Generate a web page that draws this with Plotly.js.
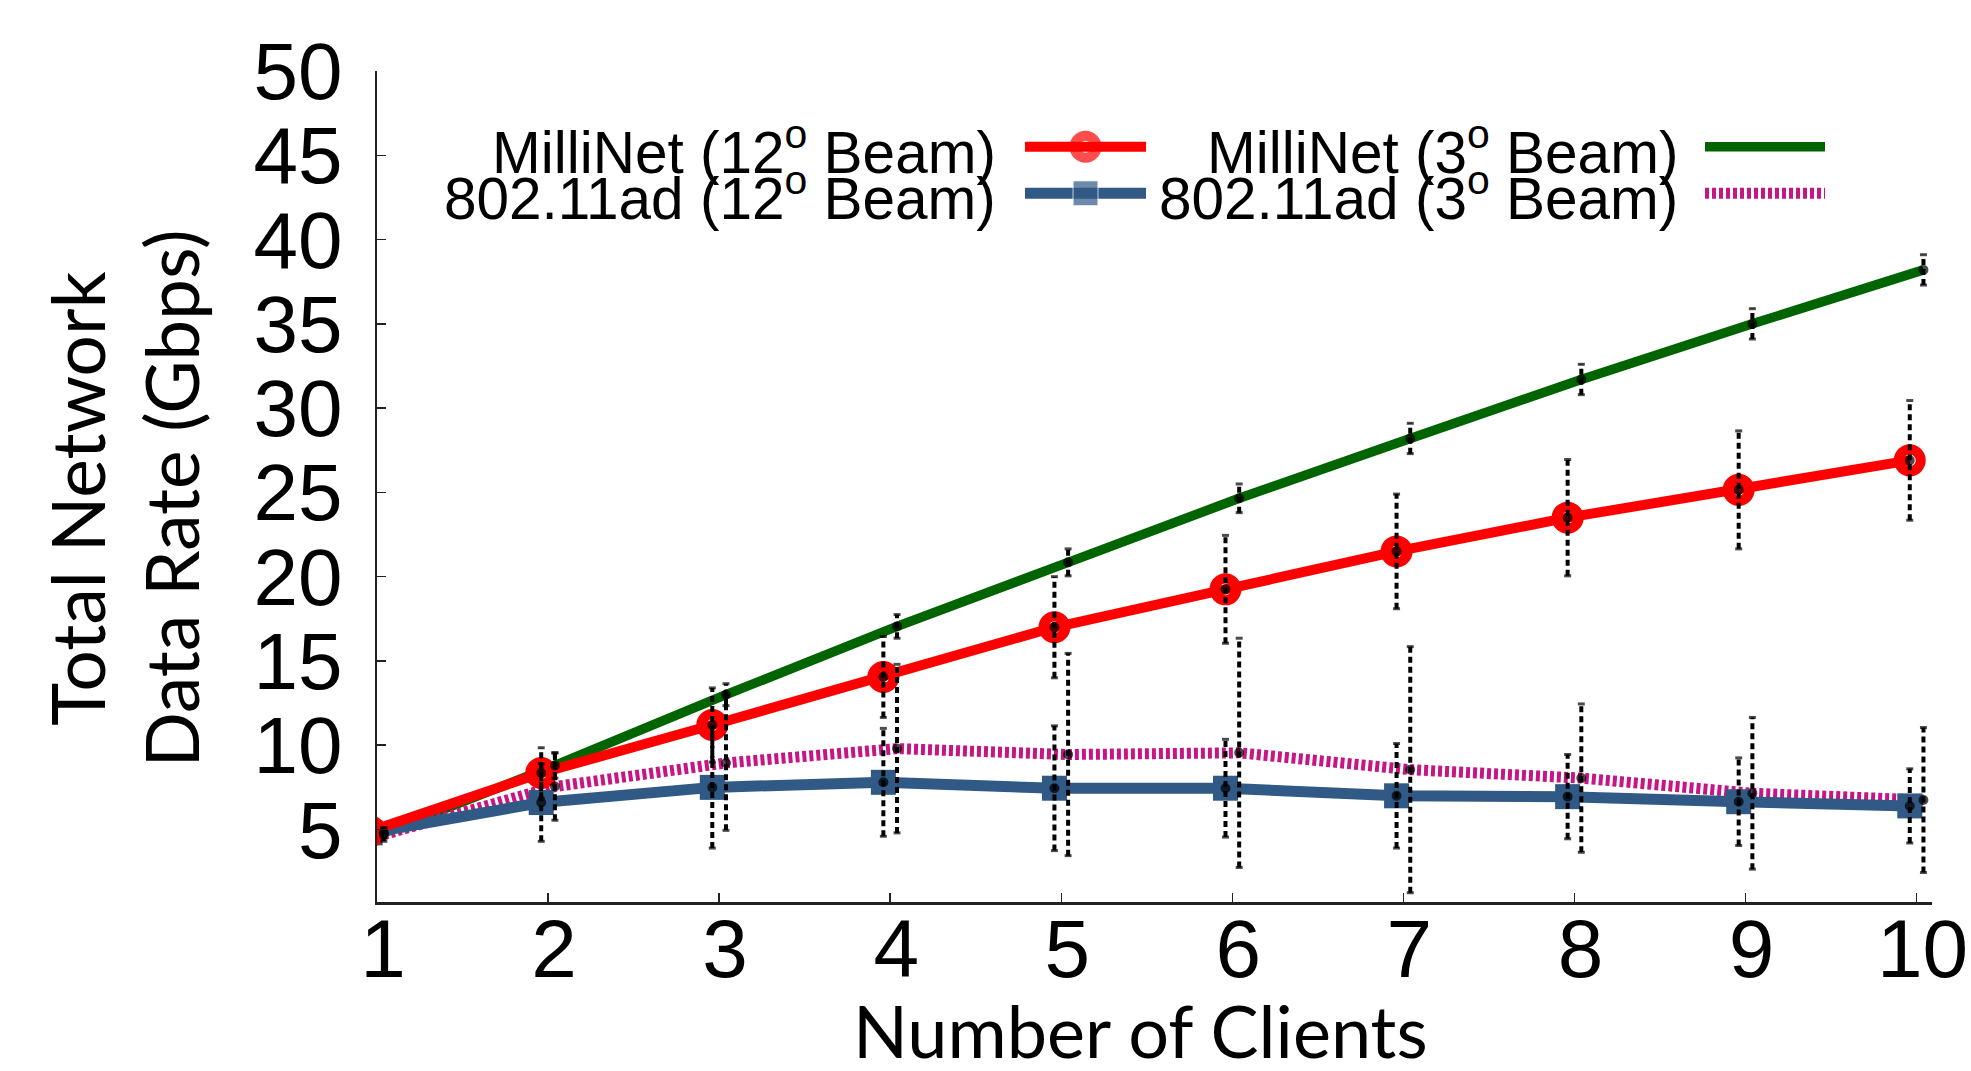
<!DOCTYPE html>
<html>
<head>
<meta charset="utf-8">
<script src="https://cdn.plot.ly/plotly-3.0.1.min.js"></script>
<style>html,body{margin:0;padding:0;background:#fff;}#chart{width:1971px;height:1071px;}</style>
</head>
<body>
<div id="chart"></div>
<script>
// ---- data ----
const clients = [1, 2, 3, 4, 5, 6, 7, 8, 9, 10];

const milliNet12 = [4.9, 8.35, 11.2, 14.05, 17.0, 19.25, 21.5, 23.5, 25.15, 26.9];
const milliNet12Err = [0.4, 1.5, 2.2, 2.4, 3.0, 3.2, 3.4, 3.45, 3.5, 3.55];

const milliNet3 = [4.8, 8.8, 13.0, 17.05, 20.85, 24.65, 28.2, 31.7, 35.0, 38.2];
const milliNet3Err = [0.3, 0.75, 0.65, 0.7, 0.8, 0.85, 0.9, 0.9, 0.9, 0.9];

const ad12 = [4.8, 6.6, 7.5, 7.8, 7.45, 7.45, 7.0, 6.95, 6.65, 6.4];
const ad12Err = [0.4, 2.3, 3.6, 3.2, 3.7, 2.9, 3.1, 2.5, 2.6, 2.2];

const ad3 = [4.7, 7.55, 8.95, 9.8, 9.45, 9.55, 8.55, 8.05, 7.15, 6.75];
const ad3Err = [0.4, 2.0, 4.0, 5.0, 6.0, 6.8, 7.3, 4.4, 4.5, 4.3];

const yTicks = [5, 10, 15, 20, 25, 30, 35, 40, 45, 50];

const seriesNames = ['MilliNet (12<sup>o</sup> Beam)', 'MilliNet (3<sup>o</sup> Beam)',
                     '802.11ad (12<sup>o</sup> Beam)', '802.11ad (3<sup>o</sup> Beam)'];

// ---- styling / layout constants ----
const OFF12 = -0.04, OFF3 = 0.04;
const RED = '#ff0000', GREEN = '#006400', BLUE = '#305a85', MAGENTA = '#c71585';
const W = 1971, H = 1071;
const M = {l: 377, r: 39, t: 71, b: 169};
const PW = W - M.l - M.r, PH = H - M.t - M.b;
const px = p => (p - M.l) / PW;
const py = p => (H - M.b - p) / PH;

const shift = (arr, d) => arr.map(v => v + d);

function errTrace(xs, ys, es, d) {
  const x = [], y = [], sym = [], sz = [];
  xs.forEach((c, i) => {
    const xx = c + d;
    x.push(xx, xx, xx, null);
    y.push(ys[i] - es[i], ys[i], ys[i] + es[i], null);
    sym.push('line-ew', 'circle', 'line-ew', 'circle');
    sz.push(5, 7, 5, 0);
  });
  return {
    x, y, type: 'scatter', mode: 'lines+markers', showlegend: false, hoverinfo: 'skip',
    connectgaps: false,
    line: {color: '#000', width: 4, dash: '6px,4px'},
    marker: {color: '#000', symbol: sym, size: sz, line: {color: '#000', width: 3}}
  };
}

const traces = [
  {x: shift(clients, OFF3), y: milliNet3, type: 'scatter', mode: 'lines', name: seriesNames[1],
   line: {color: GREEN, width: 9.5}},
  {x: shift(clients, OFF3), y: ad3, type: 'scatter', mode: 'lines', name: seriesNames[3],
   line: {color: MAGENTA, width: 11, dash: '4px,3px'}},
  {x: shift(clients, OFF12), y: ad12, type: 'scatter', mode: 'lines+markers', name: seriesNames[2],
   line: {color: BLUE, width: 11}, marker: {symbol: 'square', size: 25, color: BLUE}},
  {x: shift(clients, OFF12), y: milliNet12, type: 'scatter', mode: 'lines+markers', name: seriesNames[0],
   line: {color: RED, width: 10},
   marker: {symbol: 'circle-open', size: 22, color: RED, line: {color: RED, width: 10}}},
  errTrace(clients, milliNet12, milliNet12Err, OFF12),
  errTrace(clients, ad12, ad12Err, OFF12),
  errTrace(clients, milliNet3, milliNet3Err, OFF3),
  errTrace(clients, ad3, ad3Err, OFF3)
];

// ---- custom legend (text left of sample, gnuplot style) ----
const legRows = [146.7, 193.3];
const legCol = [{a: 1025, b: 1146, textRight: 998}, {a: 1705, b: 1825, textRight: 1680}];
function legSample(col, row, line, marker) {
  const c = legCol[col], r = legRows[row];
  const mid = (c.a + c.b) / 2;
  const t = {x: [px(c.a), px(mid), px(c.b)], y: [py(r), py(r), py(r)],
    xaxis: 'x2', yaxis: 'y2', type: 'scatter', mode: marker ? 'lines+markers' : 'lines',
    showlegend: false, hoverinfo: 'skip', line: line, cliponaxis: false};
  if (marker) t.marker = Object.assign({}, marker, {size: [0, marker.size, 0]});
  return t;
}
traces.push(
  legSample(0, 0, {color: RED, width: 10}, {symbol: 'circle-open', size: 22, color: RED, line: {color: RED, width: 10}}),
  legSample(1, 0, {color: GREEN, width: 9.5}, null),
  legSample(0, 1, {color: BLUE, width: 11}, {symbol: 'square', size: 25, color: BLUE}),
  legSample(1, 1, {color: MAGENTA, width: 11, dash: '4px,3px'}, null)
);

const legFont = {family: 'Liberation Sans, Arial, sans-serif', size: 58.5, color: '#000'};
const legendAnns = [
  [0, 0, seriesNames[0]], [1, 0, seriesNames[1]], [0, 1, seriesNames[2]], [1, 1, seriesNames[3]]
].map(([c, r, txt]) => ({
  text: txt, xref: 'paper', yref: 'paper', x: px(legCol[c].textRight), y: py(legRows[r] + 1),
  xanchor: 'right', yanchor: 'middle', showarrow: false, font: legFont
}));

const titleFont = {family: 'Lato, Open Sans, sans-serif', size: 73, color: '#000'};
const annotations = legendAnns.concat([
  {text: 'Total Network<br>Data Rate (Gbps)', xref: 'paper', yref: 'paper',
   x: px(124.5), y: py(499), xanchor: 'center', yanchor: 'middle', textangle: -90,
   showarrow: false, font: titleFont},
  {text: 'Number of Clients', xref: 'paper', yref: 'paper',
   x: px(1140.5), y: py(1030), xanchor: 'center', yanchor: 'middle',
   showarrow: false, font: Object.assign({}, titleFont, {size: 72})}
]);

const layout = {
  width: W, height: H,
  margin: M,
  paper_bgcolor: '#fff', plot_bgcolor: '#fff',
  showlegend: false,
  xaxis: {
    range: [1, 10.09], tickvals: clients, ticktext: clients.map(String),
    showgrid: false, zeroline: false, showline: true, linecolor: '#222', linewidth: 2.5,
    ticks: 'inside', ticklen: 9, tickwidth: 1.5, tickcolor: '#222',
    tickfont: {family: 'Liberation Sans, Arial, sans-serif', size: 82, color: '#000'},
    ticklabelshift: 6, ticklabelstandoff: -26, ticklabeloverflow: 'allow'
  },
  yaxis: {
    range: [0.7, 50], tickvals: yTicks, ticktext: yTicks.map(String),
    showgrid: false, zeroline: false, showline: true, linecolor: '#222', linewidth: 2.5,
    ticks: 'inside', ticklen: 9, tickwidth: 1.5, tickcolor: '#222',
    tickfont: {family: 'Liberation Sans, Arial, sans-serif', size: 80, color: '#000'},
    ticklabelstandoff: 16, ticklabeloverflow: 'allow'
  },
  xaxis2: {overlaying: 'x', range: [0, 1], visible: false, domain: [0, 1]},
  yaxis2: {overlaying: 'y', range: [0, 1], visible: false, domain: [0, 1]},
  annotations: annotations
};

Plotly.newPlot('chart', traces, layout, {displayModeBar: false, staticPlot: true});
</script>
</body>
</html>
